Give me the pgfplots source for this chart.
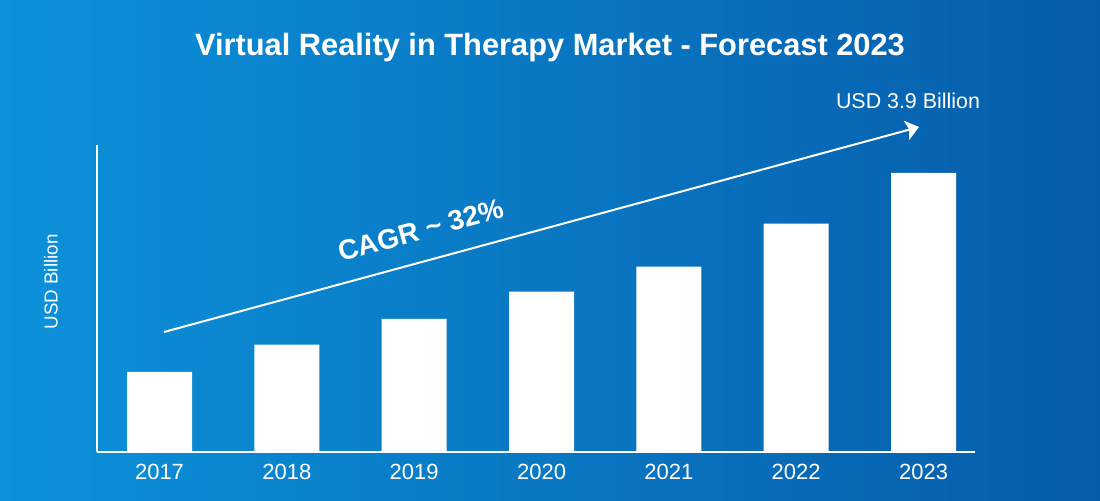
\documentclass[border=0pt]{standalone}
\usepackage{fontspec}
\setmainfont{Liberation Sans}
\usepackage{pgfplots}
\pgfplotsset{compat=1.18}
\usetikzlibrary{arrows.meta}
\definecolor{bgL}{RGB}{12,146,218}
\definecolor{bgR}{RGB}{6,92,170}
\begin{document}
\begin{tikzpicture}
\fill[left color=bgL,right color=bgR] (0,0) rectangle (550pt,250pt);
\begin{axis}[
  at={(48.5pt,24pt)}, anchor=south west,
  scale only axis, width=439pt, height=153.5pt,
  xmin=-0.491, xmax=6.404, ymin=0, ymax=4.29,
  axis x line=bottom, axis y line=left,
  axis line style={white, line width=0.8pt, -},
  ytick=\empty,
  xtick={0,...,6},
  xticklabels={2017,2018,2019,2020,2021,2022,2023},
  major tick length=0pt,
  x tick label style={font=\fontsize{11}{13}\selectfont, text=white, yshift=-2.5pt},
  ybar, bar width=32.5pt,
]
\addplot[fill=white, draw=none] coordinates {(0,1.12) (1,1.50) (2,1.86) (3,2.24) (4,2.59) (5,3.19) (6,3.90)};
\end{axis}
\begin{scope}[x=0.5pt,y=0.5pt]
\node[text=white, font=\bfseries\fontsize{15.4}{18}\selectfont] at (550,452) {Virtual Reality in Therapy Market - Forecast 2023};
\draw[white, line width=1pt, -{Stealth[width=10pt,length=6.5pt,inset=1.5pt]}] (164,168) -- (919,373);
\node[text=white, font=\fontsize{10.7}{12}\selectfont] at (908,399) {USD 3.9 Billion};
\node[text=white, font=\bfseries\fontsize{14}{16}\selectfont, rotate=15.2, inner sep=0pt] at (421,270) {CAGR \textasciitilde{} 32\%};
\node[text=white, font=\fontsize{9.4}{11}\selectfont, rotate=90] at (51,218) {USD Billion};
\end{scope}
\pgfresetboundingbox
\path (0,0) rectangle (550pt,250pt);
\end{tikzpicture}
\end{document}
